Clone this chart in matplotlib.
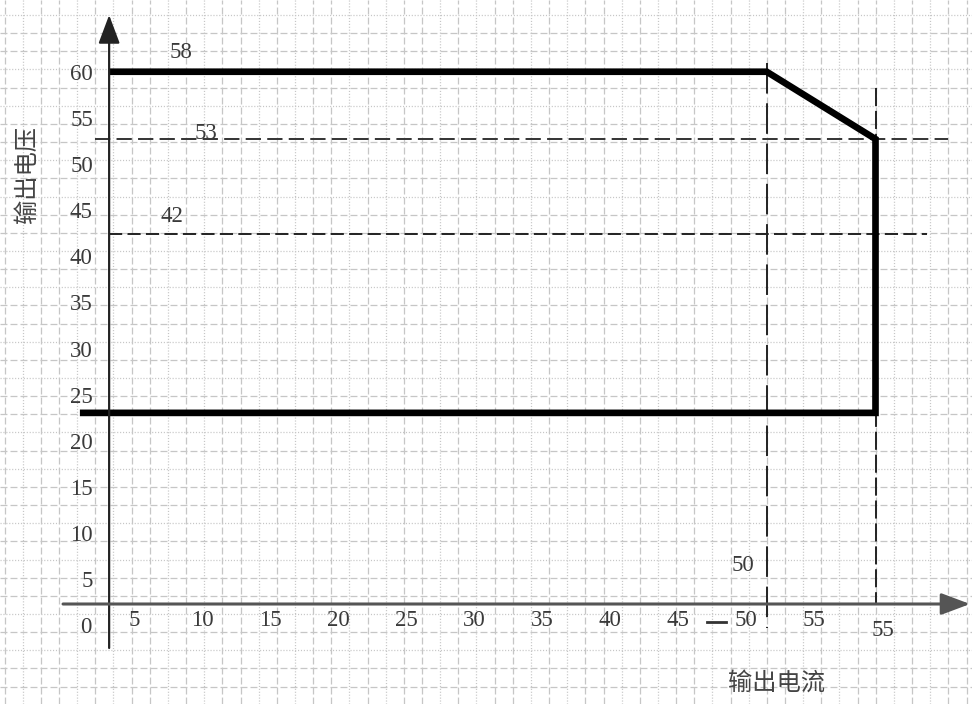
import numpy as np
import matplotlib
matplotlib.use('Agg')
import matplotlib.pyplot as plt

plt.rcParams['lines.scale_dashes'] = False

# outline of the working area (current, voltage)
curve_i = [3.15, 51.5, 59.5, 59.5, 1.0]
curve_v = [60.3, 60.3, 53.0, 23.3, 23.3]

v_limit53 = 53.0
v_limit42 = 42.7
i_knee = 51.5
i_max = 59.5

y_ticks = [60, 55, 50, 45, 40, 35, 30, 25, 20, 15, 10, 5]
x_ticks = [5, 10, 15, 20, 25, 30, 35, 40, 45, 50, 55]

notes = [('58', 8.4, 62.4), ('53', 10.3, 53.65), ('42', 7.8, 44.55),
         ('50', 49.75, 6.8), ('55', 60.05, -0.25), ('0', 1.45, 0.0)]

W, H = 972, 704
fig = plt.figure(figsize=(W / 100, H / 100), dpi=100)

# graph paper in pixel units
bg = fig.add_axes([0, 0, 1, 1])
bg.set_xlim(0, W)
bg.set_ylim(H, 0)
bg.axis('off')
step = 18.15
cycle = ['dot', 'dash', 'dash', 'dot', 'dash']
styles = {'dot': (0, (0.8, 1.3)), 'dash': (0, (5.0, 2.2))}
for k, x in enumerate(np.arange(4.55, W, step)):
    bg.axvline(x, color='#c6c6c6', lw=0.9, ls=styles[cycle[(k + 4) % 5]])
for k, y in enumerate(np.arange(15, H, step)):
    bg.axhline(y, color='#c6c6c6', lw=0.9, ls=styles[cycle[k % 5]])

# drawing in current / voltage units
ax = fig.add_axes([0, 0, 1, 1])
ax.patch.set_alpha(0)
ax.axis('off')
sx, ox = 13.6, 66.3
sy, oy = 9.22, 627.7
ax.set_xlim(-ox / sx, (W - ox) / sx)
ax.set_ylim((oy - H) / sy, oy / sy)

x0 = 3.15   # vertical axis
y0 = 2.57   # horizontal axis
arrow = dict(arrowstyle='-|>,head_length=0.8,head_width=0.3', mutation_scale=22,
             shrinkA=0, shrinkB=0)
ax.annotate('', xy=(x0, 66.45), xytext=(x0, -2.2),
            arrowprops=dict(arrow, color='#222222', lw=1.6))
ax.annotate('', xy=(66.45, y0), xytext=(-0.24, y0),
            arrowprops=dict(arrow, color='#555555', lw=2.2))

ax.plot([2.1, 64.8], [v_limit53, v_limit53], color='#333333', lw=1.4, ls=(0, (11, 4.5)))
ax.plot([x0, 63.3], [v_limit42, v_limit42], color='#222222', lw=1.4, ls=(0, (9.5, 3.8)))
ax.plot([i_knee, i_knee], [61.25, 0.0], color='#222222', lw=1.4, ls=(0, (22, 7)))
ax.plot([i_max, i_max], [58.5, y0], color='#222222', lw=1.4, ls=(0, (13, 3.5)))

ax.plot(curve_i, curve_v, color='black', lw=4.8, solid_joinstyle='miter',
        solid_capstyle='butt')

num = dict(family='Liberation Serif', fontsize=16.5, color='#3a3a3a')
for v in y_ticks:
    ax.text(1.95, v, str(v), ha='right', va='center', **num)
for i in x_ticks:
    ax.text(i, 0.83, str(i), ha='center', va='center', **num)
for s, i, v in notes:
    ax.text(i, v, s, ha='center', va='center', **num)
ax.plot([47.1, 48.5], [0.62, 0.62], color='#333333', lw=2.0)

cjk = dict(family=['Noto Sans CJK SC', 'DejaVu Sans'], fontsize=17.5, color='#444444')
ax.text(-2.89, 49.1, '输出电压', rotation=90, ha='center', va='center', **cjk)
ax.text(52.25, -6.0, '输出电流', ha='center', va='center', **cjk)

fig.savefig('out.png', dpi=100)
